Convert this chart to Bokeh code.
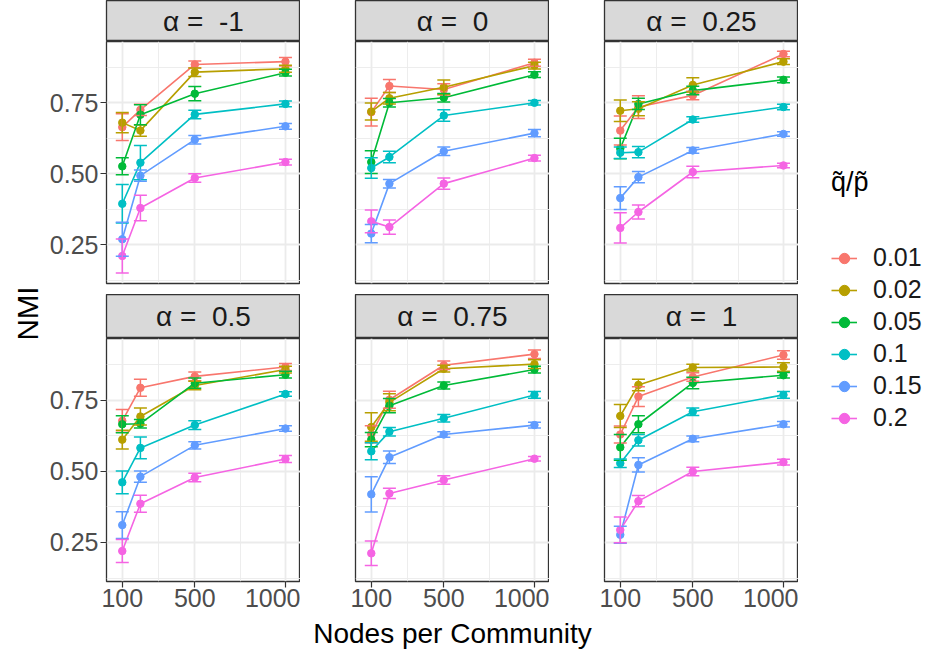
from bokeh.plotting import figure
from bokeh.layouts import row, column
from bokeh.models import (ColumnDataSource, Whisker, TeeHead, Range1d, FixedTicker,
                          NumeralTickFormatter, Legend, LegendItem, Title)
from bokeh.core.properties import value
from bokeh.embed import file_html
from bokeh.resources import INLINE

# ---------------- data ----------------
nodes = [100, 200, 500, 1000]
ratios = ["0.01", "0.02", "0.05", "0.1", "0.15", "0.2"]
alphas = ["-1", "0", "0.25", "0.5", "0.75", "1"]
x_ticks = [100, 500, 1000]
x_minor = [300, 750]
y_ticks = [0.25, 0.5, 0.75]
y_minor = [0.125, 0.375, 0.625, 0.875]

# NMI mean per q/p series (rows follow `ratios`), per alpha panel
nmi_alpha_m1 = [[0.664, 0.725, 0.885, 0.895],
                [0.680, 0.652, 0.858, 0.870],
                [0.526, 0.708, 0.782, 0.856],
                [0.394, 0.539, 0.709, 0.746],
                [0.269, 0.493, 0.620, 0.667],
                [0.210, 0.379, 0.485, 0.541]]
err_alpha_m1 = [[0.047, 0.020, 0.012, 0.015],
                [0.036, 0.020, 0.015, 0.012],
                [0.030, 0.035, 0.025, 0.012],
                [0.068, 0.060, 0.015, 0.010],
                [0.060, 0.020, 0.015, 0.010],
                [0.060, 0.045, 0.015, 0.010]]

nmi_alpha_0 = [[0.717, 0.809, 0.797, 0.891],
               [0.719, 0.766, 0.805, 0.881],
               [0.541, 0.750, 0.768, 0.849],
               [0.520, 0.559, 0.705, 0.750],
               [0.289, 0.465, 0.579, 0.643],
               [0.332, 0.312, 0.465, 0.555]]
err_alpha_0 = [[0.049, 0.023, 0.020, 0.012],
               [0.030, 0.020, 0.025, 0.012],
               [0.040, 0.015, 0.015, 0.010],
               [0.036, 0.020, 0.020, 0.008],
               [0.032, 0.015, 0.015, 0.013],
               [0.040, 0.025, 0.020, 0.010]]

nmi_alpha_025 = [[0.652, 0.735, 0.776, 0.922],
                 [0.722, 0.729, 0.813, 0.895],
                 [0.589, 0.746, 0.793, 0.831],
                 [0.574, 0.576, 0.691, 0.735],
                 [0.414, 0.488, 0.582, 0.640],
                 [0.309, 0.365, 0.506, 0.529]]
err_alpha_025 = [[0.051, 0.040, 0.015, 0.010],
                 [0.038, 0.025, 0.025, 0.010],
                 [0.036, 0.020, 0.015, 0.010],
                 [0.020, 0.020, 0.010, 0.010],
                 [0.040, 0.020, 0.010, 0.008],
                 [0.053, 0.025, 0.020, 0.008]]

nmi_alpha_05 = [[0.677, 0.793, 0.833, 0.866],
                [0.611, 0.692, 0.801, 0.857],
                [0.665, 0.667, 0.809, 0.839],
                [0.461, 0.582, 0.662, 0.771],
                [0.311, 0.481, 0.591, 0.650],
                [0.220, 0.386, 0.478, 0.543]]
err_alpha_05 = [[0.040, 0.030, 0.015, 0.012],
                [0.033, 0.030, 0.015, 0.012],
                [0.030, 0.015, 0.018, 0.012],
                [0.040, 0.038, 0.015, 0.008],
                [0.047, 0.020, 0.013, 0.010],
                [0.040, 0.030, 0.015, 0.012]]

nmi_alpha_075 = [[0.630, 0.751, 0.872, 0.911],
                 [0.655, 0.742, 0.860, 0.876],
                 [0.611, 0.730, 0.801, 0.857],
                 [0.570, 0.639, 0.686, 0.768],
                 [0.419, 0.549, 0.629, 0.662],
                 [0.212, 0.422, 0.469, 0.544]]
err_alpha_075 = [[0.030, 0.030, 0.015, 0.015],
                 [0.050, 0.030, 0.012, 0.015],
                 [0.025, 0.025, 0.012, 0.012],
                 [0.030, 0.015, 0.013, 0.012],
                 [0.062, 0.022, 0.010, 0.010],
                 [0.043, 0.018, 0.015, 0.008]]

nmi_alpha_1 = [[0.629, 0.762, 0.831, 0.908],
               [0.694, 0.803, 0.864, 0.866],
               [0.584, 0.665, 0.810, 0.837],
               [0.528, 0.609, 0.709, 0.768],
               [0.277, 0.522, 0.614, 0.665],
               [0.294, 0.395, 0.499, 0.532]]
err_alpha_1 = [[0.030, 0.035, 0.015, 0.015],
               [0.040, 0.020, 0.012, 0.015],
               [0.045, 0.030, 0.020, 0.010],
               [0.015, 0.020, 0.013, 0.012],
               [0.030, 0.025, 0.010, 0.010],
               [0.045, 0.020, 0.015, 0.010]]

panel_values = [nmi_alpha_m1, nmi_alpha_0, nmi_alpha_025,
                nmi_alpha_05, nmi_alpha_075, nmi_alpha_1]
panel_errors = [err_alpha_m1, err_alpha_0, err_alpha_025,
                err_alpha_05, err_alpha_075, err_alpha_1]

# ---------------- style ----------------
colors = ["#F8766D", "#B79F00", "#00BA38", "#00BFC4", "#619CFF", "#F564E3"]
FONT = "Liberation Sans"
FRAME_W = 194
FRAME_H = [242, 243]
LEFTS = [60, 55, 55]
STRIP_H = [41, 44]
GAP = 11
AXIS_H = 36
XLAB_H = 32
TOTAL_H = STRIP_H[0] + FRAME_H[0] + GAP + STRIP_H[1] + FRAME_H[1] + AXIS_H + XLAB_H
X_RANGE = (13, 1083)
Y_RANGE = (0.113, 0.966)
# side figures (y title, legend) share one frame: Bokeh aligns frames in a row
SIDE_TOP = 167
SIDE_H = 292


def base_fig(**kw):
    opts = dict(toolbar_location=None, output_backend="svg",
                min_border=0, min_border_left=0, min_border_right=0,
                min_border_top=0, min_border_bottom=0)
    opts.update(kw)
    return figure(**opts)


def make_strip(label, ci, ri):
    s = base_fig(frame_width=FRAME_W, frame_height=STRIP_H[ri],
                 min_border_left=LEFTS[ci],
                 x_range=Range1d(0, 1), y_range=Range1d(0, 1),
                 x_axis_location=None, y_axis_location=None,
                 background_fill_color="#D9D9D9",
                 outline_line_color="#333333", outline_line_width=1.3)
    s.grid.visible = False
    s.text(x=[0.5], y=[0.5], text=["\u03b1 = \u00a0" + label],
           text_align="center", text_baseline="middle",
           text_font=value(FONT), text_font_size="28px", text_color="#1A1A1A")
    return s


def make_panel(i):
    ci, ri = i % 3, i // 3
    p = base_fig(frame_width=FRAME_W, frame_height=FRAME_H[ri],
                 min_border_left=LEFTS[ci],
                 min_border_bottom=(GAP if ri == 0 else AXIS_H),
                 x_range=Range1d(*X_RANGE), y_range=Range1d(*Y_RANGE),
                 x_axis_location=("below" if ri == 1 else None),
                 y_axis_location=("left" if ci == 0 else None),
                 background_fill_color="white",
                 outline_line_color="#333333", outline_line_width=1.3)
    p.xgrid.ticker = FixedTicker(ticks=x_ticks, minor_ticks=x_minor)
    p.ygrid.ticker = FixedTicker(ticks=y_ticks, minor_ticks=y_minor)
    for g in (p.xgrid[0], p.ygrid[0]):
        g.grid_line_color = "#EBEBEB"
        g.grid_line_width = 1.8
        g.minor_grid_line_color = "#EBEBEB"
        g.minor_grid_line_width = 0.9
    for ax in p.axis:
        ax.axis_line_color = None
        ax.major_tick_line_color = "#333333"
        ax.major_tick_line_width = 1.2
        ax.major_tick_out = 6
        ax.major_tick_in = 0
        ax.minor_tick_line_color = None
        ax.major_label_text_font = FONT
        ax.major_label_text_font_size = "25px"
        ax.major_label_text_color = "#4D4D4D"
        ax.major_label_standoff = 2
    if ri == 1:
        p.xaxis.ticker = FixedTicker(ticks=x_ticks)
        p.xaxis.major_label_standoff = 1
    if ci == 0:
        p.yaxis.ticker = FixedTicker(ticks=y_ticks)
        p.yaxis.formatter = NumeralTickFormatter(format="0.00")

    vals = panel_values[i]
    errs = panel_errors[i]
    for k in range(len(ratios)):
        c = colors[k]
        src = ColumnDataSource(dict(
            x=nodes, y=vals[k],
            upper=[v + e for v, e in zip(vals[k], errs[k])],
            lower=[v - e for v, e in zip(vals[k], errs[k])]))
        w = Whisker(source=src, base="x", upper="upper", lower="lower",
                    line_color=c, line_width=1.5, level="glyph",
                    upper_head=TeeHead(size=13, line_color=c, line_width=1.5),
                    lower_head=TeeHead(size=13, line_color=c, line_width=1.5))
        p.add_layout(w)
        p.line("x", "y", source=src, line_color=c, line_width=1.6)
        p.scatter("x", "y", source=src, size=7.5, fill_color=c, line_color=c)
    return p


cells = []
for i, a in enumerate(alphas):
    ci, ri = i % 3, i // 3
    cells.append(column(make_strip(a, ci, ri), make_panel(i)))

grid_rows = column(row(cells[0], cells[1], cells[2]),
                   row(cells[3], cells[4], cells[5]))

# x-axis title
xl = base_fig(frame_width=3 * FRAME_W + 2 * 55, frame_height=XLAB_H,
              min_border_left=LEFTS[0],
              x_range=Range1d(0, 1), y_range=Range1d(0, 1),
              x_axis_location=None, y_axis_location=None,
              outline_line_color=None)
xl.grid.visible = False
xl.text(x=[0.5], y=[0.5], text=["Nodes per Community"], text_align="center",
        text_baseline="middle", text_font=value(FONT), text_font_size="28px",
        text_color="black")

# y-axis title (left-side title, centred on its frame)
yl = base_fig(frame_width=1, frame_height=SIDE_H,
              min_border_top=SIDE_TOP, min_border_left=45,
              min_border_bottom=TOTAL_H - SIDE_TOP - SIDE_H,
              x_range=Range1d(0, 1), y_range=Range1d(0, 1),
              x_axis_location=None, y_axis_location=None,
              outline_line_color=None)
yl.grid.visible = False
yl.add_layout(Title(text="NMI", align="center", text_font=FONT,
                    text_font_size="29.5px", text_font_style="normal",
                    text_color="black", standoff=4), "left")

# legend
lf = base_fig(frame_width=92, frame_height=SIDE_H, min_border_left=33,
              min_border_top=SIDE_TOP,
              min_border_bottom=TOTAL_H - SIDE_TOP - SIDE_H,
              x_range=Range1d(0, 1), y_range=Range1d(0, 1),
              x_axis_location=None, y_axis_location=None,
              outline_line_color=None)
lf.grid.visible = False
items = []
for k, lab in enumerate(ratios):
    rl = lf.line(nodes, nmi_alpha_m1[k], line_color=colors[k], line_width=1.6)
    rp = lf.scatter(nodes, nmi_alpha_m1[k], size=7.5, fill_color=colors[k],
                    line_color=colors[k])
    items.append(LegendItem(label=lab, renderers=[rl, rp]))
leg = Legend(items=items, location="top_left", title="q\u0303/p\u0303",
             margin=0, padding=7, spacing=3, glyph_width=26, glyph_height=28,
             label_height=28, label_standoff=16, title_standoff=45,
             border_line_color=None, background_fill_alpha=0,
             label_text_font=FONT, label_text_font_size="25px",
             label_text_color="#1A1A1A",
             title_text_font=FONT, title_text_font_size="27px",
             title_text_font_style="normal", title_text_color="black")
lf.add_layout(leg)

layout = row(yl, column(grid_rows, xl), lf)

open("out.html", "w").write(file_html(layout, INLINE))
